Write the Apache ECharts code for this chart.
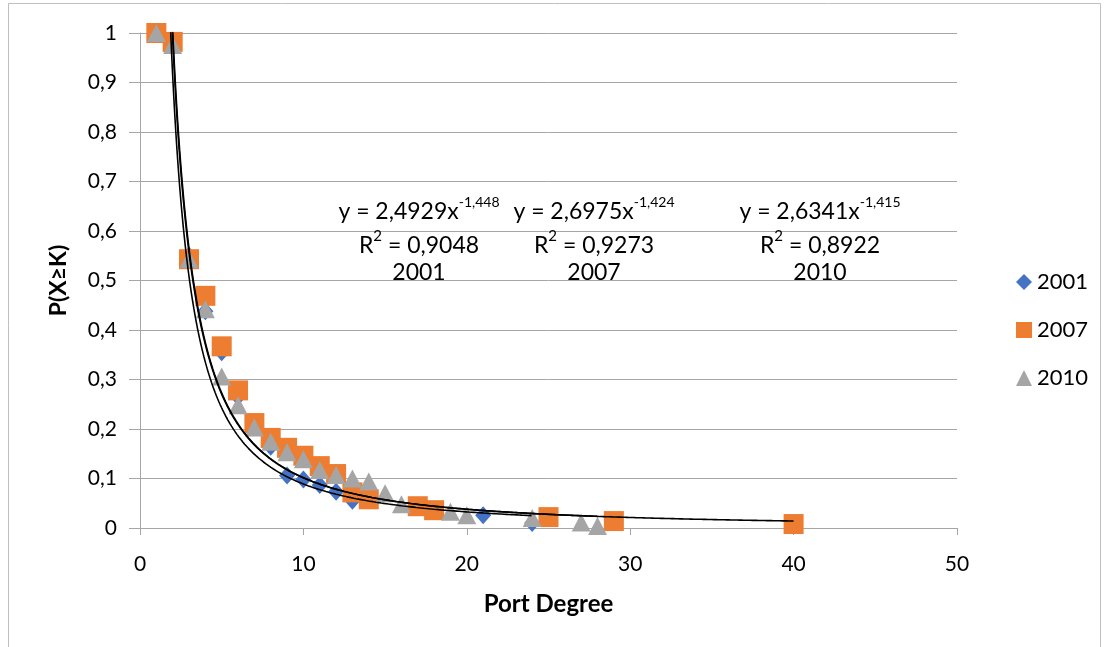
<!DOCTYPE html>
<html>
<head>
<meta charset="utf-8">
<script src="https://cdn.jsdelivr.net/npm/echarts@6/dist/echarts.min.js"></script>
<style>
html,body{margin:0;padding:0;background:#fff;}
#chart{width:1109px;height:647px;}
</style>
</head>
<body>
<div id="chart"></div>
<script>
// ---- Data ----
const seriesNames = ['2001', '2007', '2010'];

const x2001 = [1, 2, 3, 4, 5, 6, 7, 8, 9, 10, 11, 12, 13, 21, 24];
const y2001 = [1, 0.985, 0.55, 0.438, 0.355, 0.265, 0.205, 0.164, 0.106, 0.098, 0.087, 0.073, 0.055, 0.026, 0.010];

const x2007 = [1, 2, 3, 4, 5, 6, 7, 8, 9, 10, 11, 12, 13, 14, 17, 18, 25, 29, 40];
const y2007 = [1, 0.982, 0.543, 0.469, 0.367, 0.278, 0.212, 0.182, 0.162, 0.146, 0.125, 0.109, 0.072, 0.058, 0.044, 0.036, 0.022, 0.014, 0.008];

const x2010 = [1, 2, 3, 4, 5, 6, 7, 8, 9, 10, 11, 12, 13, 14, 15, 16, 19, 20, 24, 27, 28];
const y2010 = [1, 0.976, 0.543, 0.442, 0.306, 0.248, 0.203, 0.174, 0.153, 0.139, 0.117, 0.107, 0.100, 0.094, 0.070, 0.048, 0.033, 0.026, 0.020, 0.011, 0.004];

// Power-law trendlines printed on the chart: y = a * x^b
const fitA = [2.4929, 2.6975, 2.6341];
const fitB = [-1.448, -1.424, -1.415];
const fitR2 = ['0,9048', '0,9273', '0,8922'];
const fitAText = ['2,4929', '2,6975', '2,6341'];
const fitBText = ['-1,448', '-1,424', '-1,415'];

const xTicks = [0, 10, 20, 30, 40, 50];
const yTicks = [0, 0.1, 0.2, 0.3, 0.4, 0.5, 0.6, 0.7, 0.8, 0.9, 1];

// ---- Build ----
const FONT = 'Lato';
const colors = ['#4472C4', '#ED7D31', '#A5A5A5'];
const xs = [x2001, x2007, x2010];
const ys = [y2001, y2007, y2010];

function pairs(xa, ya) { return xa.map((x, i) => [x, ya[i]]); }

function trend(k) {
  const xa = xs[k];
  const lo = Math.min(...xa), hi = Math.max(...xa);
  const pts = [];
  const n = 600;
  for (let i = 0; i <= n; i++) {
    const x = lo + (hi - lo) * i / n;
    pts.push([x, fitA[k] * Math.pow(x, fitB[k])]);
  }
  return pts;
}

const chart = echarts.init(document.getElementById('chart'), null, {renderer: 'canvas'});

const symbols = ['diamond', 'rect', 'triangle'];
const sizes = [[16, 18], [20, 20], [19, 18]];

const series = [];
seriesNames.forEach((nm, k) => {
  series.push({
    name: nm,
    type: 'scatter',
    data: pairs(xs[k], ys[k]),
    symbol: symbols[k],
    symbolSize: sizes[k],
    itemStyle: {color: colors[k], opacity: 1},
    z: 2 + k,
    animation: false
  });
});
seriesNames.forEach((nm, k) => {
  series.push({
    name: 'trend' + nm,
    type: 'line',
    data: trend(k),
    showSymbol: false,
    symbol: 'none',
    clip: true,
    lineStyle: {color: '#000', width: 1.6},
    z: 10,
    silent: true,
    animation: false
  });
});

// annotations (equation, R², year) – centres in pixels
const annCx = [419, 594, 820];
const graphic = [{
  type: 'rect',
  shape: {x: 8.5, y: 3.5, width: 1092, height: 700},
  style: {fill: 'none', stroke: '#BFBFBF', lineWidth: 1},
  silent: true, z: -1
}];
annCx.forEach((cx, k) => {
  graphic.push({
    type: 'text', x: cx, y: 209,
    style: {
      text: '{n|y = ' + fitAText[k] + 'x}{s|' + fitBText[k] + '}',
      align: 'center', verticalAlign: 'middle',
      rich: {
        n: {fontFamily: FONT, fontSize: 23, color: '#000', lineHeight: 28, verticalAlign: 'bottom'},
        s: {fontFamily: FONT, fontSize: 14, color: '#000', lineHeight: 28, verticalAlign: 'top'}
      }
    }, z: 20
  });
  graphic.push({
    type: 'text', x: cx, y: 243,
    style: {
      text: '{n|R}{s|2}{n| = ' + fitR2[k] + '}',
      align: 'center', verticalAlign: 'middle',
      rich: {
        n: {fontFamily: FONT, fontSize: 23, color: '#000', lineHeight: 28, verticalAlign: 'bottom'},
        s: {fontFamily: FONT, fontSize: 15, color: '#000', lineHeight: 28, verticalAlign: 'top'}
      }
    }, z: 20
  });
  graphic.push({
    type: 'text', x: cx, y: 273,
    style: {text: seriesNames[k], font: '23px ' + FONT, fill: '#000', align: 'center', verticalAlign: 'middle'}, z: 20
  });
});

function fmt(v) { return String(+v.toFixed(1)).replace('.', ','); }

chart.setOption({
  backgroundColor: '#fff',
  animation: false,
  textStyle: {fontFamily: FONT},
  grid: {left: 140, right: 152, top: 33, bottom: 119, containLabel: false},
  legend: {
    orient: 'vertical',
    left: 1011, top: 266,
    itemWidth: 16, itemHeight: 16, itemGap: 26,
    data: seriesNames.map((nm, k) => ({name: nm, icon: symbols[k]})),
    textStyle: {fontFamily: FONT, fontSize: 22, color: '#000'}
  },
  xAxis: {
    type: 'value', min: xTicks[0], max: xTicks[xTicks.length - 1], interval: 10,
    name: 'Port Degree', nameLocation: 'middle', nameGap: 64,
    nameTextStyle: {fontFamily: FONT, fontSize: 24, fontWeight: 'bold', color: '#000'},
    axisLine: {show: true, onZero: false, lineStyle: {color: '#A6A6A6', width: 1}},
    axisTick: {show: true, length: 7, lineStyle: {color: '#A6A6A6'}},
    axisLabel: {fontFamily: FONT, fontSize: 21, color: '#000', margin: 26},
    splitLine: {show: false}
  },
  yAxis: {
    type: 'value', min: yTicks[0], max: yTicks[yTicks.length - 1], interval: 0.1,
    name: 'P(X≥K)', nameLocation: 'middle', nameGap: 70, nameRotate: 90,
    nameTextStyle: {fontFamily: FONT, fontSize: 23, fontWeight: 'bold', color: '#000'},
    axisLine: {show: true, lineStyle: {color: '#A6A6A6', width: 1}},
    axisTick: {show: true, length: 11, lineStyle: {color: '#A6A6A6'}},
    axisLabel: {fontFamily: FONT, fontSize: 21, color: '#000', margin: 23, formatter: fmt},
    splitLine: {show: true, lineStyle: {color: '#A6A6A6', width: 1}}
  },
  graphic: graphic,
  series: series
});
</script>
</body>
</html>
